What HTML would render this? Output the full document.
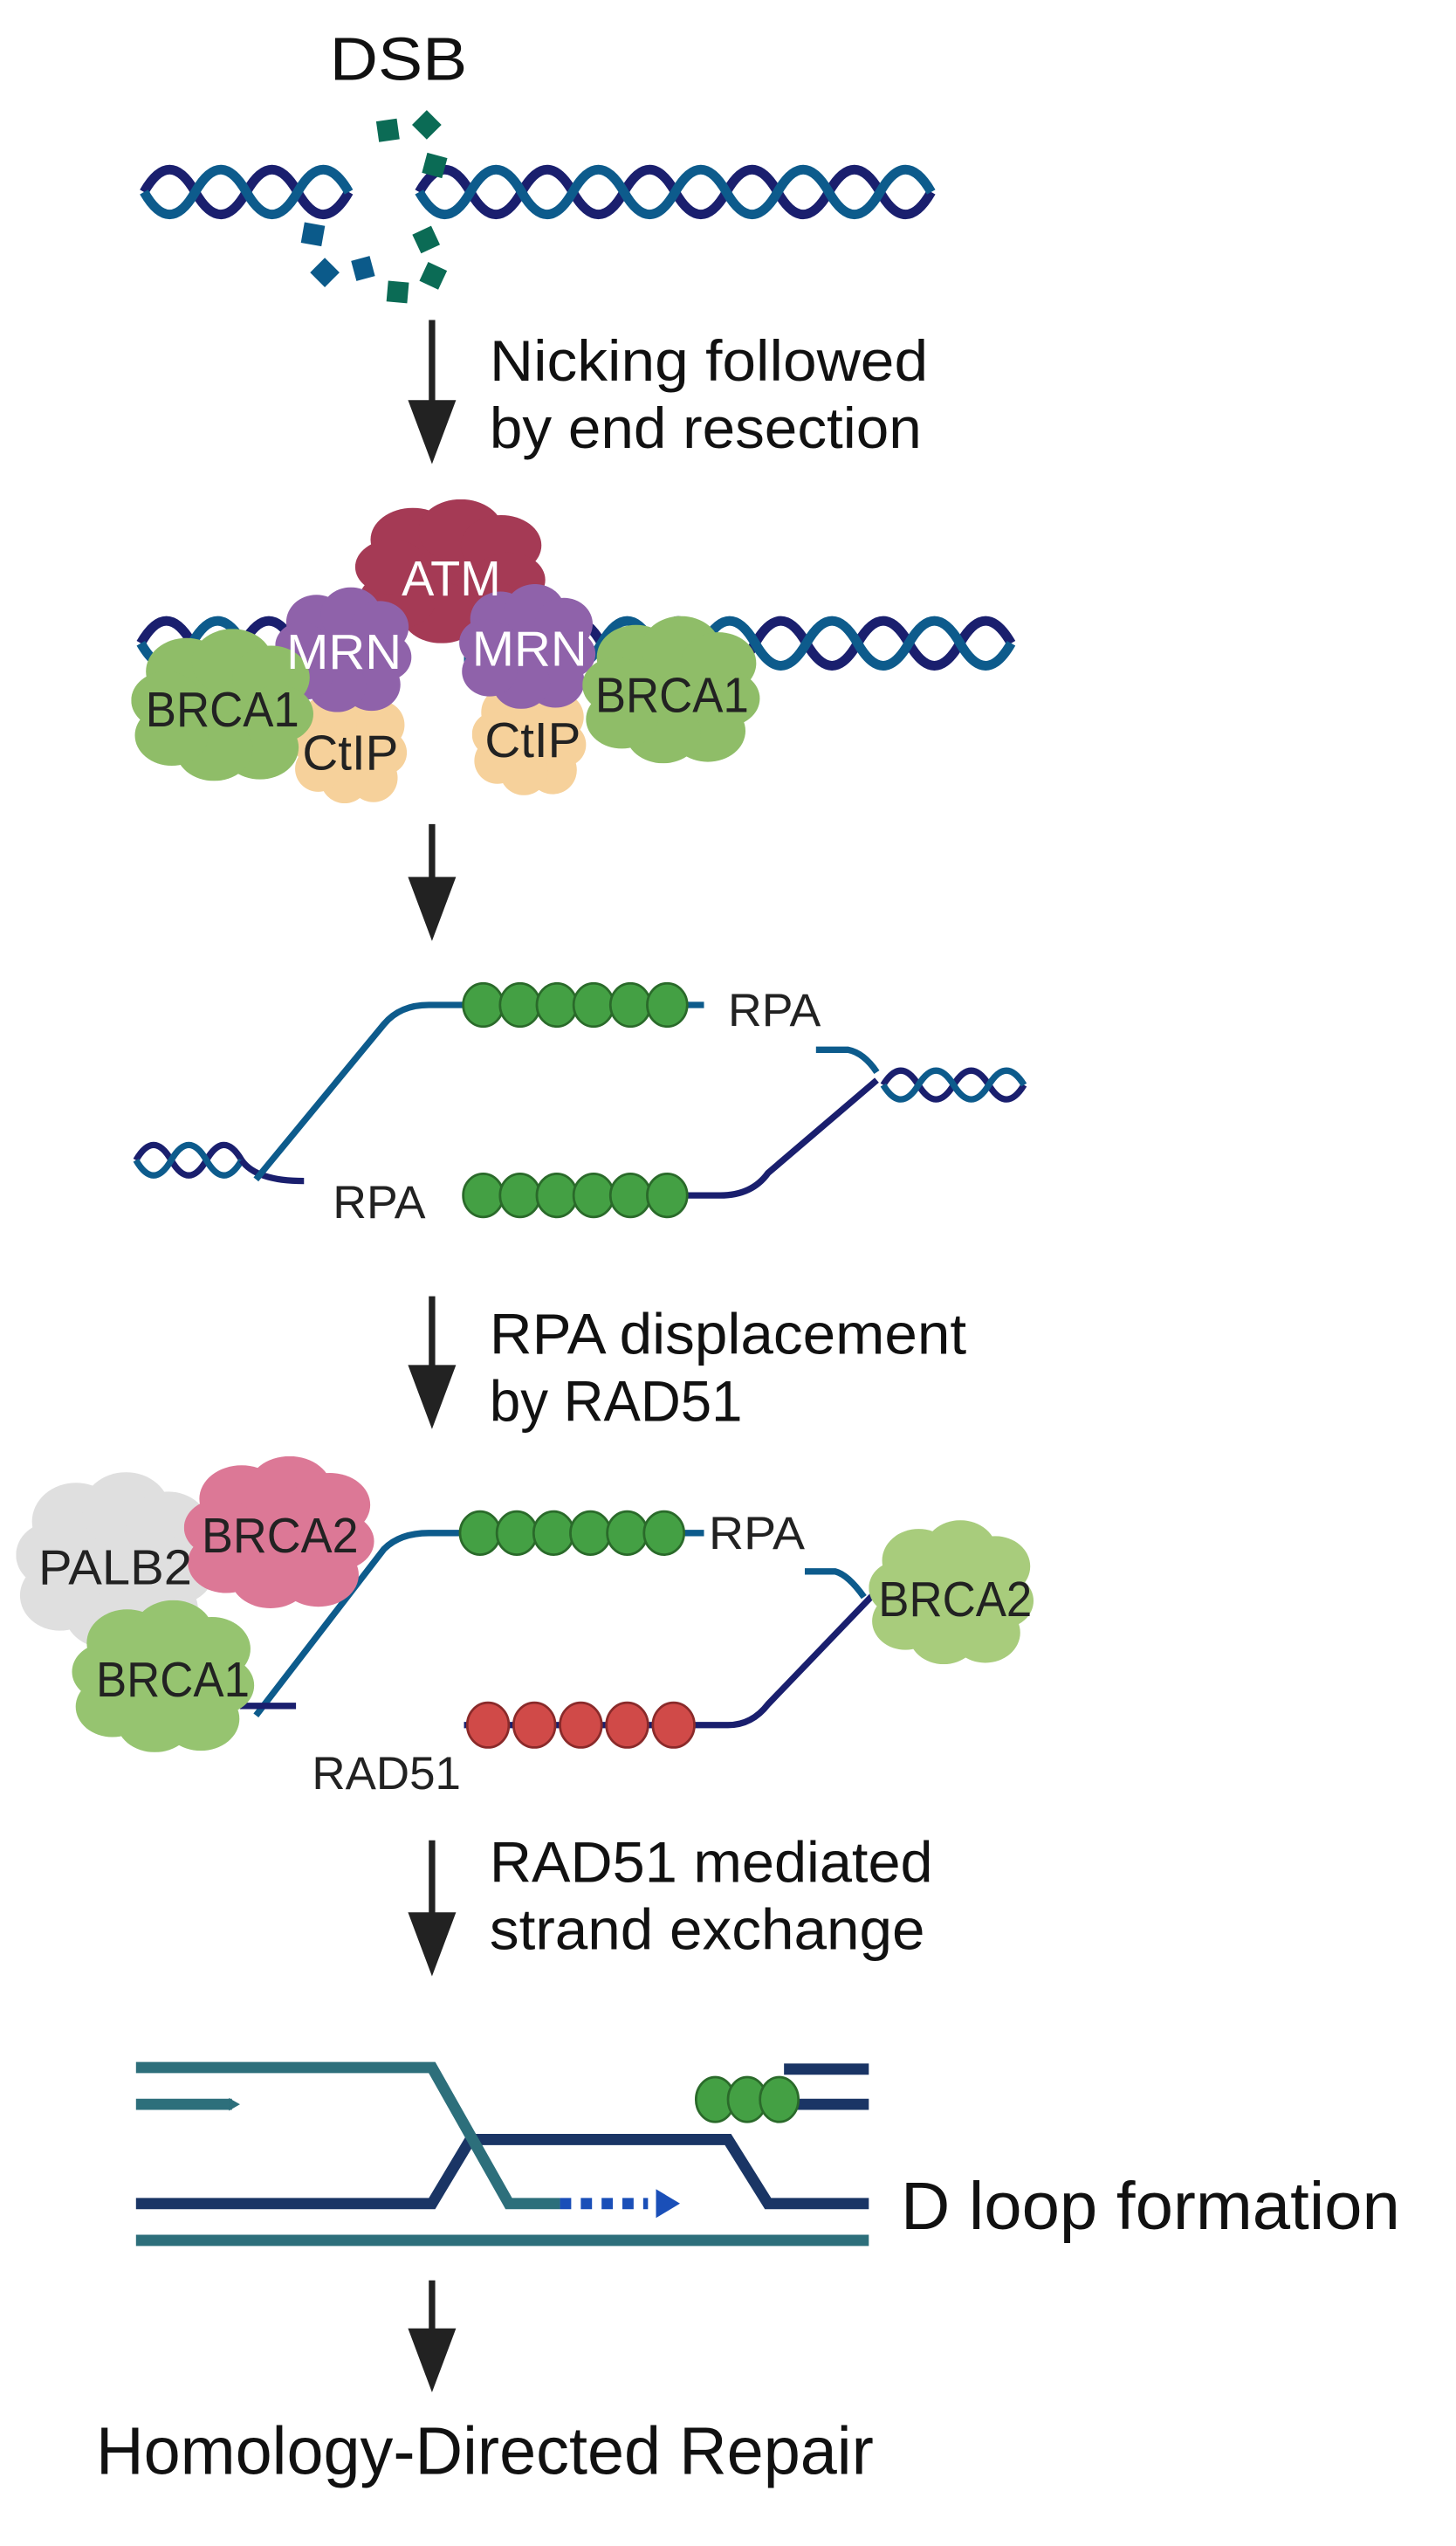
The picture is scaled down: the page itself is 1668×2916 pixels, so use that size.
<!DOCTYPE html>
<html><head><meta charset="utf-8"><style>
html,body{margin:0;padding:0;background:#fff;}
svg{display:block}
text{font-family:"Liberation Sans",sans-serif;}
</style></head><body>
<svg width="1668" height="2916" viewBox="0 0 910 1591" preserveAspectRatio="none" xmlns="http://www.w3.org/2000/svg">
<defs>
<symbol id="blob" viewBox="0 0 100 100" preserveAspectRatio="none">
<circle cx="50" cy="50" r="36"/><circle cx="30" cy="28" r="22"/><circle cx="55" cy="22" r="22"/><circle cx="76" cy="32" r="21"/><circle cx="80" cy="56" r="19"/><circle cx="70" cy="78" r="21"/><circle cx="45" cy="79" r="21"/><circle cx="22" cy="70" r="20"/><circle cx="19" cy="47" r="19"/>
</symbol>
<g id="arrowhead"><polygon points="-15,0 15,0 0,40" fill="#222"/></g>
</defs>

<!-- DSB -->
<text x="206" y="50" font-size="38" fill="#111" textLength="86" lengthAdjust="spacingAndGlyphs">DSB</text>
<g fill="none" stroke-width="6" stroke-linecap="butt">
<path d="M90 120 Q106 92 122 120 T154 120 T186 120 T218 120" stroke="#1a1f6e"/>
<path d="M90 120 Q106 148 122 120 T154 120 T186 120 T218 120" stroke="#0d5b8c"/>
<path d="M262 120 Q278 92 294 120 T326 120 T358 120 T390 120 T422 120 T454 120 T486 120 T518 120 T550 120 T582 120" stroke="#1a1f6e"/>
<path d="M262 120 Q278 148 294 120 T326 120 T358 120 T390 120 T422 120 T454 120 T486 120 T518 120 T550 120 T582 120" stroke="#0d5b8c"/>
</g>
<g fill="#0b6b55">
<rect x="236" y="75" width="13" height="13" transform="rotate(-8 242 82)"/>
<rect x="260" y="71" width="13" height="13" transform="rotate(45 266 78)"/>
<rect x="265" y="97" width="13" height="13" transform="rotate(15 272 104)"/>
<rect x="260" y="143" width="13" height="13" transform="rotate(-25 267 150)"/>
<rect x="264" y="166" width="13" height="13" transform="rotate(25 271 173)"/>
<rect x="242" y="176" width="13" height="13" transform="rotate(5 249 183)"/>
</g>
<g fill="#0b5a8a">
<rect x="189" y="140" width="13" height="13" transform="rotate(10 196 147)"/>
<rect x="196" y="164" width="13" height="13" transform="rotate(45 203 171)"/>
<rect x="221" y="161" width="12" height="13" transform="rotate(-15 228 168)"/>
</g>

<!-- Arrow 1 -->
<line x1="270" y1="200" x2="270" y2="255" stroke="#222" stroke-width="4"/>
<use href="#arrowhead" x="270" y="250"/>
<text x="306" y="238" font-size="36" fill="#111" textLength="274" lengthAdjust="spacingAndGlyphs">Nicking followed</text>
<text x="306" y="280" font-size="36" fill="#111" textLength="270" lengthAdjust="spacingAndGlyphs">by end resection</text>

<!-- Step 2 -->
<g fill="none" stroke-width="6">
<path d="M88 402 Q104 374 120 402 T152 402 T184 402 T216 402 T248 402 T280 402 T312 402 T344 402 T376 402 T408 402 T440 402 T472 402 T504 402 T536 402 T568 402 T600 402 T632 402" stroke="#1a1f6e"/>
<path d="M88 402 Q104 430 120 402 T152 402 T184 402 T216 402 T248 402 T280 402 T312 402 T344 402 T376 402 T408 402 T440 402 T472 402 T504 402 T536 402 T568 402 T600 402 T632 402" stroke="#0d5b8c"/>
</g>
<rect x="250" y="385" width="40" height="40" fill="#fff"/>
<use href="#blob" x="222" y="312" width="120" height="90" fill="#a53a55"/>
<use href="#blob" x="183" y="430" width="72" height="72" fill="#f6d19b"/>
<use href="#blob" x="295" y="425" width="72" height="72" fill="#f6d19b"/>
<use href="#blob" x="172" y="367" width="86" height="78" fill="#8f62aa"/>
<use href="#blob" x="287" y="365" width="86" height="78" fill="#8f62aa"/>
<use href="#blob" x="82" y="393" width="115" height="95" fill="#8fbd68"/>
<use href="#blob" x="364" y="385" width="112" height="92" fill="#8fbd68"/>
<text x="282" y="372" font-size="31" fill="#fff" text-anchor="middle" textLength="62" lengthAdjust="spacingAndGlyphs">ATM</text>
<text x="215" y="418" font-size="31" fill="#fff" text-anchor="middle" textLength="72" lengthAdjust="spacingAndGlyphs">MRN</text>
<text x="331" y="416" font-size="31" fill="#fff" text-anchor="middle" textLength="72" lengthAdjust="spacingAndGlyphs">MRN</text>
<text x="139" y="454" font-size="31" fill="#222" text-anchor="middle" textLength="96" lengthAdjust="spacingAndGlyphs">BRCA1</text>
<text x="420" y="445" font-size="31" fill="#222" text-anchor="middle" textLength="96" lengthAdjust="spacingAndGlyphs">BRCA1</text>
<text x="219" y="481" font-size="31" fill="#222" text-anchor="middle" textLength="60" lengthAdjust="spacingAndGlyphs">CtIP</text>
<text x="333" y="473" font-size="31" fill="#222" text-anchor="middle" textLength="60" lengthAdjust="spacingAndGlyphs">CtIP</text>

<!-- Arrow 2 -->
<line x1="270" y1="515" x2="270" y2="552" stroke="#222" stroke-width="4"/>
<use href="#arrowhead" x="270" y="548"/>

<!-- Step 3 -->
<g fill="none" stroke-width="4">
<path d="M85 725 Q96 706 107 725 T129 725 T151 725" stroke="#1a1f6e"/>
<path d="M85 725 Q96 744 107 725 T129 725 T151 725" stroke="#0d5b8c"/>
<path d="M151 725 Q160 738 190 738" stroke="#1a1f6e"/>
<path d="M160 737 L240 640 Q250 628 268 628 L440 628" stroke="#0d5b8c"/>
<path d="M292 747 L450 747 Q470 747 480 733 L548 675" stroke="#1a1f6e"/>
<path d="M510 656 L530 656 Q540 658 548 670" stroke="#0d5b8c"/>
<path d="M552 678 Q563 660 574 678 T596 678 T618 678 T640 678" stroke="#1a1f6e"/>
<path d="M552 678 Q563 696 574 678 T596 678 T618 678 T640 678" stroke="#0d5b8c"/>
</g>
<g fill="#44a044" stroke="#2a6a2a" stroke-width="1.5">
<ellipse cx="302" cy="628" rx="12.5" ry="13.5"/><ellipse cx="325" cy="628" rx="12.5" ry="13.5"/><ellipse cx="348" cy="628" rx="12.5" ry="13.5"/><ellipse cx="371" cy="628" rx="12.5" ry="13.5"/><ellipse cx="394" cy="628" rx="12.5" ry="13.5"/><ellipse cx="417" cy="628" rx="12.5" ry="13.5"/>
<ellipse cx="302" cy="747" rx="12.5" ry="13.5"/><ellipse cx="325" cy="747" rx="12.5" ry="13.5"/><ellipse cx="348" cy="747" rx="12.5" ry="13.5"/><ellipse cx="371" cy="747" rx="12.5" ry="13.5"/><ellipse cx="394" cy="747" rx="12.5" ry="13.5"/><ellipse cx="417" cy="747" rx="12.5" ry="13.5"/>
</g>
<text x="455" y="641" font-size="29" fill="#222" textLength="58" lengthAdjust="spacingAndGlyphs">RPA</text>
<text x="208" y="761" font-size="29" fill="#222" textLength="58" lengthAdjust="spacingAndGlyphs">RPA</text>

<!-- Arrow 3 -->
<line x1="270" y1="810" x2="270" y2="858" stroke="#222" stroke-width="4"/>
<use href="#arrowhead" x="270" y="853"/>
<text x="306" y="846" font-size="36" fill="#111" textLength="298" lengthAdjust="spacingAndGlyphs">RPA displacement</text>
<text x="306" y="888" font-size="36" fill="#111" textLength="158" lengthAdjust="spacingAndGlyphs">by RAD51</text>

<!-- Step 4 -->
<g fill="none" stroke-width="4">
<path d="M160 1072 L240 968 Q250 958 268 958 L440 958" stroke="#0d5b8c"/>
<path d="M150 1066 L185 1066" stroke="#1a1f6e"/>
<path d="M290 1078 L455 1078 Q470 1078 480 1065 L552 990" stroke="#1a1f6e"/>
<path d="M503 982 L522 982 Q530 984 540 998" stroke="#0d5b8c"/>
</g>
<use href="#blob" x="10" y="920" width="125" height="110" fill="#dfdfdf"/>
<use href="#blob" x="115" y="910" width="120" height="95" fill="#dc7896"/>
<use href="#blob" x="45" y="1000" width="115" height="95" fill="#96c470"/>
<use href="#blob" x="543" y="950" width="104" height="90" fill="#a8cc7c"/>
<text x="72" y="990" font-size="31" fill="#222" text-anchor="middle" textLength="96" lengthAdjust="spacingAndGlyphs">PALB2</text>
<text x="175" y="970" font-size="31" fill="#222" text-anchor="middle" textLength="98" lengthAdjust="spacingAndGlyphs">BRCA2</text>
<text x="108" y="1060" font-size="31" fill="#222" text-anchor="middle" textLength="96" lengthAdjust="spacingAndGlyphs">BRCA1</text>
<text x="597" y="1010" font-size="31" fill="#222" text-anchor="middle" textLength="96" lengthAdjust="spacingAndGlyphs">BRCA2</text>
<g fill="#44a044" stroke="#2a6a2a" stroke-width="1.5">
<ellipse cx="300" cy="958" rx="12.5" ry="13.5"/><ellipse cx="323" cy="958" rx="12.5" ry="13.5"/><ellipse cx="346" cy="958" rx="12.5" ry="13.5"/><ellipse cx="369" cy="958" rx="12.5" ry="13.5"/><ellipse cx="392" cy="958" rx="12.5" ry="13.5"/><ellipse cx="415" cy="958" rx="12.5" ry="13.5"/>
</g>
<g fill="#d04a48" stroke="#8a2a2a" stroke-width="1.5">
<ellipse cx="305" cy="1078" rx="13" ry="14"/><ellipse cx="334" cy="1078" rx="13" ry="14"/><ellipse cx="363" cy="1078" rx="13" ry="14"/><ellipse cx="392" cy="1078" rx="13" ry="14"/><ellipse cx="421" cy="1078" rx="13" ry="14"/>
</g>
<text x="443" y="968" font-size="29" fill="#222" textLength="60" lengthAdjust="spacingAndGlyphs">RPA</text>
<text x="195" y="1118" font-size="29" fill="#222" textLength="93" lengthAdjust="spacingAndGlyphs">RAD51</text>

<!-- Arrow 4 -->
<line x1="270" y1="1150" x2="270" y2="1200" stroke="#222" stroke-width="4"/>
<use href="#arrowhead" x="270" y="1195"/>
<text x="306" y="1176" font-size="36" fill="#111" textLength="277" lengthAdjust="spacingAndGlyphs">RAD51 mediated</text>
<text x="306" y="1218" font-size="36" fill="#111" textLength="272" lengthAdjust="spacingAndGlyphs">strand exchange</text>

<!-- Step 5 D loop -->
<g fill="none" stroke-width="7" stroke-linejoin="miter">
<path d="M85 1377 L270 1377 L294 1337 L455 1337 L480 1377 L543 1377" stroke="#1a3565"/>
<path d="M85 1292 L270 1292 L318 1377 L350 1377" stroke="#2d6f7b"/>
<path d="M85 1315 L145 1315" stroke="#2d6f7b"/>
<path d="M85 1400 L543 1400" stroke="#2d6f7b"/>
<path d="M490 1293 L543 1293 M490 1315 L543 1315" stroke="#1a3565"/>
<path d="M350 1377 L405 1377" stroke="#1a4fb8" stroke-dasharray="7,6"/>
</g>
<polygon points="143,1311 150,1315 143,1319" fill="#2d6f7b"/>
<polygon points="410,1368 425,1377 410,1386" fill="#1a4fb8"/>
<g fill="#44a044" stroke="#2a6a2a" stroke-width="1.5">
<ellipse cx="447" cy="1312" rx="12" ry="14"/><ellipse cx="467" cy="1312" rx="12" ry="14"/><ellipse cx="487" cy="1312" rx="12" ry="14"/>
</g>
<text x="563" y="1393" font-size="42" fill="#111" textLength="312" lengthAdjust="spacingAndGlyphs">D loop formation</text>

<!-- Arrow 5 -->
<line x1="270" y1="1425" x2="270" y2="1460" stroke="#222" stroke-width="4"/>
<use href="#arrowhead" x="270" y="1455"/>
<text x="60" y="1546" font-size="42" fill="#111" textLength="486" lengthAdjust="spacingAndGlyphs">Homology-Directed Repair</text>
</svg>
</body></html>
